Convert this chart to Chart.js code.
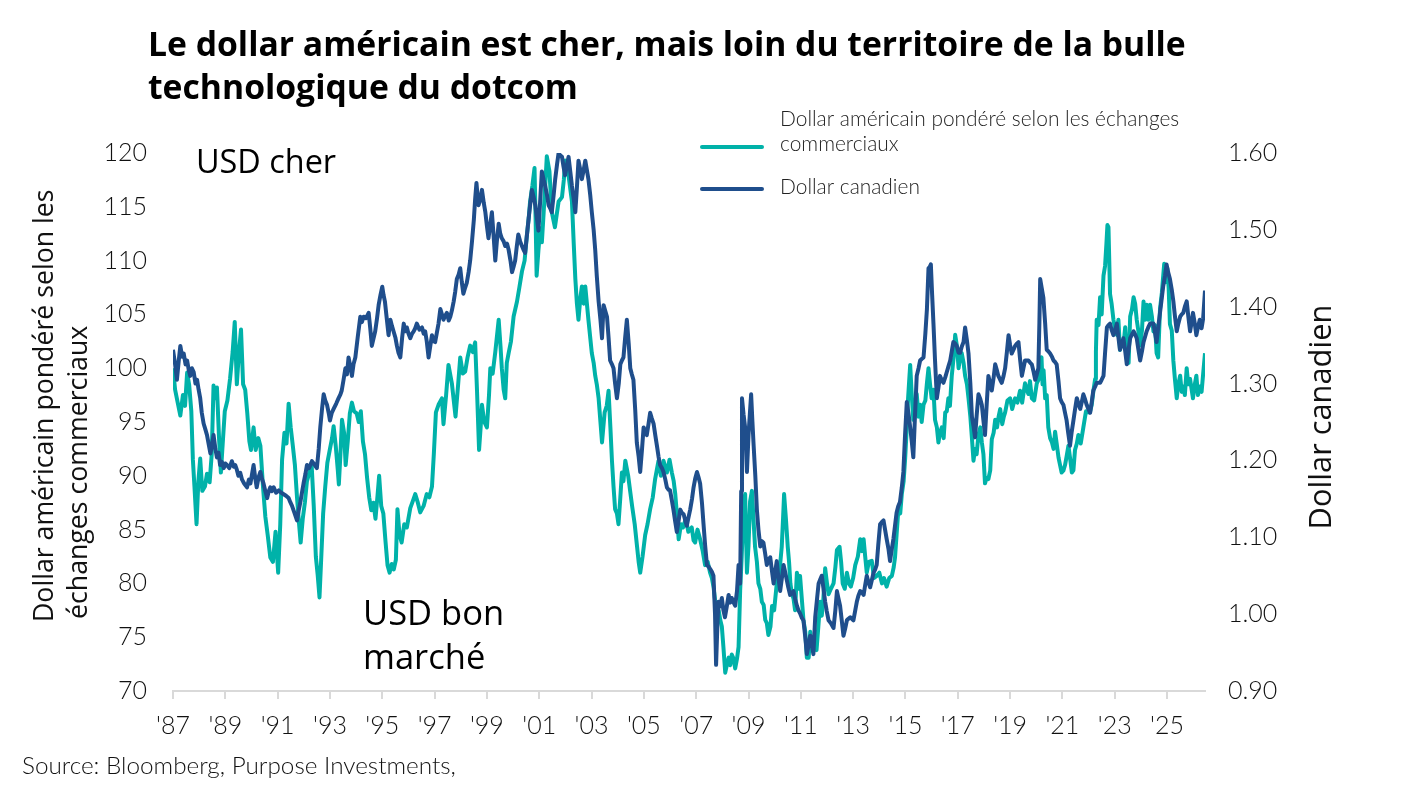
<!DOCTYPE html>
<html>
<head>
<meta charset="utf-8">
<script src="https://cdn.jsdelivr.net/npm/chart.js@4.4.1/dist/chart.umd.min.js"></script>
<style>
  html, body { margin: 0; padding: 0; background: #fff; }
  #wrap { width: 1406px; height: 789px; }
</style>
</head>
<body>
<div id="wrap"><canvas id="myChart" width="1406" height="789"></canvas></div>
<script>
	// ticks shown on the x axis
	const xTickYears = [1987, 1989, 1991, 1993, 1995, 1997, 1999, 2001, 2003, 2005, 2007, 2009, 2011, 2013, 2015, 2017, 2019, 2021, 2023, 2025];

	// Dollar américain pondéré selon les échanges commerciaux (left axis) : [date, value]
	const usdSeries = [[1987.00,100.0],[1987.08,98.0],[1987.18,96.8],[1987.28,95.6],[1987.38,97.5],[1987.46,96.5],[1987.54,99.6],[1987.62,98.4],[1987.70,96.0],[1987.76,91.5],[1987.82,89.0],[1987.90,85.5],[1987.97,89.5],[1988.04,91.6],[1988.12,88.6],[1988.22,89.0],[1988.30,90.2],[1988.40,89.4],[1988.48,92.0],[1988.55,98.4],[1988.62,97.2],[1988.68,98.2],[1988.76,93.5],[1988.83,90.3],[1988.90,93.0],[1988.98,96.0],[1989.08,97.0],[1989.18,99.0],[1989.28,101.5],[1989.36,104.3],[1989.44,98.5],[1989.52,101.5],[1989.60,103.6],[1989.68,98.5],[1989.76,98.0],[1989.84,95.8],[1989.92,93.2],[1989.98,92.4],[1990.08,94.5],[1990.16,92.4],[1990.26,93.5],[1990.34,92.8],[1990.44,89.0],[1990.53,86.2],[1990.62,84.5],[1990.72,82.4],[1990.82,82.0],[1990.92,84.8],[1991.02,81.0],[1991.10,85.5],[1991.17,91.5],[1991.26,94.0],[1991.34,93.0],[1991.42,96.7],[1991.50,94.5],[1991.58,92.8],[1991.66,91.0],[1991.74,88.0],[1991.82,85.5],[1991.88,83.8],[1991.96,86.0],[1992.04,87.5],[1992.12,89.5],[1992.20,90.2],[1992.30,91.0],[1992.38,87.2],[1992.46,82.5],[1992.53,80.8],[1992.60,78.7],[1992.66,82.0],[1992.74,86.5],[1992.82,89.0],[1992.90,91.2],[1993.00,92.5],[1993.08,93.5],[1993.14,94.6],[1993.22,92.8],[1993.30,90.5],[1993.34,89.2],[1993.40,92.0],[1993.46,95.2],[1993.54,94.0],[1993.60,91.0],[1993.68,93.2],[1993.76,95.8],[1993.84,96.8],[1993.92,96.0],[1994.02,95.8],[1994.10,95.0],[1994.18,96.0],[1994.26,93.2],[1994.34,92.0],[1994.42,89.8],[1994.50,88.0],[1994.58,86.8],[1994.66,87.5],[1994.74,86.0],[1994.82,88.2],[1994.88,90.0],[1994.96,87.2],[1995.04,86.5],[1995.12,84.0],[1995.20,81.7],[1995.28,81.0],[1995.36,81.8],[1995.44,81.3],[1995.52,82.2],[1995.58,86.9],[1995.66,84.5],[1995.74,83.8],[1995.84,85.5],[1995.94,85.2],
		[1996.07,87.0],[1996.16,87.6],[1996.26,88.3],[1996.36,87.5],[1996.45,86.6],[1996.58,87.2],[1996.70,88.3],[1996.80,88.0],[1996.90,89.0],[1996.97,92.0],[1997.05,95.9],[1997.15,96.6],[1997.28,97.2],[1997.34,94.8],[1997.44,97.5],[1997.53,100.3],[1997.66,98.6],[1997.80,95.5],[1997.90,98.5],[1997.98,101.0],[1998.08,99.5],[1998.17,99.7],[1998.26,101.0],[1998.36,102.1],[1998.46,101.5],[1998.55,102.4],[1998.62,98.0],[1998.70,92.4],[1998.76,94.5],[1998.81,96.6],[1998.90,95.0],[1999.00,94.5],[1999.08,97.5],[1999.13,100.0],[1999.22,99.5],[1999.32,101.5],[1999.45,104.5],[1999.52,102.0],[1999.57,100.0],[1999.64,98.0],[1999.70,97.2],[1999.76,100.5],[1999.83,101.4],[1999.92,102.5],[2000.02,104.8],[2000.15,106.2],[2000.24,107.5],[2000.34,109.0],[2000.44,110.0],[2000.53,112.4],[2000.60,114.0],[2000.65,115.5],[2000.74,117.0],[2000.82,118.6],[2000.86,114.0],[2000.90,108.6],[2000.97,111.0],[2001.04,113.0],[2001.10,111.7],[2001.17,114.5],[2001.23,117.0],[2001.29,119.7],[2001.39,118.3],[2001.48,114.5],[2001.60,113.1],[2001.74,115.5],[2001.87,115.9],[2001.94,117.5],[2001.99,119.3],[2002.06,118.8],[2002.12,117.9],[2002.25,115.5],[2002.32,111.5],[2002.38,108.3],[2002.44,106.0],[2002.50,104.5],[2002.57,106.5],[2002.63,107.6],[2002.70,106.0],[2002.76,107.6],[2002.88,104.5],[2003.01,101.4],[2003.08,100.5],[2003.14,99.3],[2003.20,98.5],[2003.27,97.2],[2003.34,95.0],[2003.40,93.1],[2003.50,95.9],[2003.58,96.5],[2003.65,97.9],[2003.72,94.5],[2003.78,91.4],[2003.84,89.0],[2003.90,86.9],[2003.97,86.5],[2004.03,85.5],[2004.10,88.0],[2004.16,90.3],[2004.22,89.5],[2004.29,91.4],[2004.40,90.0],[2004.48,88.5],[2004.55,87.2],[2004.65,85.5],[2004.74,83.4],[2004.80,82.0],[2004.86,81.0],[2004.95,82.5],[2005.05,84.5],[2005.14,85.5],[2005.24,86.9],[2005.34,88.0],[2005.43,89.7],[2005.56,91.4],[2005.65,90.0],[2005.75,91.4],[2005.88,90.3],[2005.98,91.5],[2006.07,90.3],[2006.14,89.5],[2006.20,88.3],[2006.26,86.5],[2006.33,84.1],[2006.42,85.5],[2006.50,85.2],[2006.60,86.0],[2006.70,84.8],[2006.83,85.2],[2006.90,84.0],[2006.96,83.8],
		[2007.05,85.0],[2007.15,84.1],[2007.25,83.0],[2007.34,81.7],[2007.44,82.0],[2007.53,81.0],[2007.60,80.5],[2007.66,79.7],[2007.72,78.5],[2007.79,76.9],[2007.86,77.5],[2007.92,76.6],[2007.98,76.0],[2008.04,74.1],[2008.11,71.7],[2008.18,72.5],[2008.24,73.1],[2008.30,72.4],[2008.36,73.4],[2008.43,73.0],[2008.49,72.1],[2008.56,73.0],[2008.62,74.1],[2008.68,79.3],[2008.74,82.5],[2008.81,86.9],[2008.87,88.3],[2008.94,81.0],[2009.00,83.5],[2009.06,87.6],[2009.13,88.6],[2009.19,86.0],[2009.25,83.4],[2009.32,82.0],[2009.38,80.0],[2009.45,79.5],[2009.51,78.3],[2009.58,78.0],[2009.64,76.6],[2009.70,76.3],[2009.76,75.2],[2009.84,76.0],[2009.90,77.9],[2009.98,77.5],[2010.08,80.0],[2010.18,81.0],[2010.27,83.4],[2010.32,86.0],[2010.36,88.3],[2010.43,86.0],[2010.50,83.4],[2010.55,82.0],[2010.60,80.0],[2010.66,79.0],[2010.72,78.6],[2010.78,77.5],[2010.85,81.0],[2010.91,79.5],[2010.97,80.7],[2011.04,78.5],[2011.10,76.6],[2011.17,75.5],[2011.23,73.1],[2011.30,73.1],[2011.36,75.5],[2011.42,74.5],[2011.50,75.0],[2011.60,73.8],[2011.67,76.0],[2011.74,78.3],[2011.80,77.0],[2011.86,78.5],[2011.93,81.4],[2012.00,80.0],[2012.06,79.0],[2012.15,79.5],[2012.25,80.0],[2012.32,81.5],[2012.38,83.1],[2012.48,83.4],[2012.54,82.0],[2012.60,80.0],[2012.68,79.5],[2012.76,81.0],[2012.84,80.0],[2012.91,79.7],[2013.00,80.5],[2013.08,81.7],[2013.18,82.5],[2013.27,84.1],[2013.34,83.0],[2013.40,84.1],[2013.46,82.5],[2013.52,81.0],[2013.60,82.0],[2013.71,82.1],[2013.80,80.5],[2013.90,80.7],[2014.00,81.0],[2014.10,80.0],[2014.18,80.5],[2014.28,79.7],[2014.38,80.5],[2014.48,80.7],[2014.55,81.5],[2014.60,82.4],[2014.66,84.5],[2014.73,86.9],[2014.80,86.5],[2014.86,88.3],[2014.93,89.5],[2014.99,91.7],[2015.05,94.5],[2015.10,97.2],[2015.18,100.3],[2015.24,97.5],[2015.30,95.2],[2015.36,96.5],[2015.43,97.6],[2015.50,95.5],[2015.56,96.6],[2015.62,95.0],[2015.69,96.6],[2015.76,97.0],[2015.82,98.6],[2015.88,100.0],[2015.94,98.5],[2016.00,97.2],[2016.07,98.0],[2016.13,95.2],[2016.20,94.5],[2016.26,93.1],[2016.32,94.0],[2016.39,94.5],[2016.46,93.5],[2016.52,95.9],[2016.58,96.0],[2016.64,97.2],[2016.70,96.5],[2016.77,99.3],[2016.84,101.0],[2016.90,103.1],[2016.97,102.0],
		[2017.03,100.0],[2017.09,101.0],[2017.15,101.4],[2017.22,100.5],[2017.28,99.3],[2017.35,98.5],[2017.41,97.2],[2017.48,95.5],[2017.54,93.5],[2017.60,91.4],[2017.66,92.5],[2017.72,92.0],[2017.79,93.8],[2017.86,94.5],[2017.92,93.1],[2017.98,92.0],[2018.04,89.3],[2018.10,89.8],[2018.17,89.7],[2018.24,90.5],[2018.30,93.4],[2018.37,94.0],[2018.43,95.2],[2018.50,94.5],[2018.56,95.5],[2018.62,96.2],[2018.70,94.8],[2018.76,95.5],[2018.81,95.9],[2018.90,97.0],[2019.00,97.2],[2019.08,96.2],[2019.19,97.2],[2019.28,96.8],[2019.38,97.9],[2019.46,96.8],[2019.57,98.6],[2019.64,98.0],[2019.70,97.6],[2019.76,98.8],[2019.83,97.2],[2019.92,97.0],[2020.02,98.6],[2020.10,99.0],[2020.15,100.7],[2020.20,101.0],[2020.24,98.5],[2020.28,99.8],[2020.34,97.2],[2020.40,97.5],[2020.46,94.5],[2020.53,93.5],[2020.60,93.1],[2020.66,92.5],[2020.72,94.1],[2020.78,93.0],[2020.85,91.7],[2020.91,91.0],[2020.97,90.3],[2021.04,90.5],[2021.10,91.0],[2021.16,91.8],[2021.23,92.8],[2021.30,91.5],[2021.36,90.3],[2021.42,90.5],[2021.48,92.4],[2021.55,93.0],[2021.61,93.8],[2021.70,93.0],[2021.80,94.5],[2021.90,96.0],[2021.99,95.9],[2022.06,96.0],[2022.12,96.6],[2022.19,98.0],[2022.25,99.0],[2022.28,101.5],[2022.31,104.5],[2022.38,104.0],[2022.44,106.6],[2022.50,105.0],[2022.57,108.6],[2022.63,109.5],[2022.68,111.5],[2022.72,113.3],[2022.76,113.1],[2022.79,110.0],[2022.82,106.9],[2022.88,106.0],[2022.95,104.5],[2023.02,103.5],[2023.08,103.1],[2023.14,104.5],[2023.20,101.7],[2023.27,102.5],[2023.33,102.1],[2023.40,103.8],[2023.46,101.0],[2023.53,100.5],[2023.59,104.8],[2023.66,105.5],[2023.72,106.6],[2023.78,106.0],[2023.84,104.5],[2023.90,103.5],[2023.97,102.1],[2024.04,103.5],[2024.10,106.2],[2024.16,104.5],[2024.22,105.9],[2024.28,104.5],[2024.35,105.9],[2024.42,104.8],[2024.48,103.4],[2024.54,104.0],[2024.60,101.4],[2024.66,101.0],[2024.73,105.5],[2024.80,107.0],[2024.89,109.7],[2024.95,108.0],[2025.01,109.3],[2025.06,107.5],[2025.11,104.1],[2025.18,103.5],[2025.24,100.7],[2025.30,99.0],[2025.37,97.2],[2025.43,98.5],[2025.50,99.3],[2025.56,97.8],[2025.62,98.3],[2025.68,97.5],[2025.75,100.0],[2025.81,98.5],[2025.88,99.0],[2025.94,98.0],[2025.99,97.2],[2026.06,98.5],[2026.12,99.3],[2026.18,97.5],[2026.25,98.3],[2026.32,97.8],[2026.38,99.5],[2026.45,101.4]];

	// Dollar canadien (right axis) : [date, value]
	const cadSeries = [[1987.00,1.344],[1987.08,1.325],[1987.15,1.305],[1987.22,1.330],[1987.28,1.349],[1987.35,1.335],[1987.41,1.339],[1987.48,1.325],[1987.54,1.330],[1987.60,1.318],[1987.66,1.310],[1987.72,1.320],[1987.79,1.315],[1987.86,1.300],[1987.92,1.305],[1987.98,1.292],[1988.04,1.281],[1988.10,1.262],[1988.17,1.248],[1988.24,1.240],[1988.30,1.233],[1988.36,1.222],[1988.43,1.209],[1988.50,1.222],[1988.55,1.233],[1988.62,1.215],[1988.68,1.204],[1988.74,1.210],[1988.80,1.194],[1988.87,1.198],[1988.94,1.190],[1989.00,1.196],[1989.06,1.194],[1989.15,1.190],[1989.25,1.199],[1989.32,1.192],[1989.38,1.194],[1989.44,1.188],[1989.50,1.180],[1989.57,1.184],[1989.64,1.175],[1989.72,1.170],[1989.83,1.165],[1989.90,1.175],[1989.96,1.170],[1990.02,1.182],[1990.08,1.194],[1990.14,1.178],[1990.20,1.165],[1990.27,1.178],[1990.34,1.185],[1990.40,1.176],[1990.46,1.170],[1990.53,1.160],[1990.60,1.151],[1990.66,1.160],[1990.72,1.165],[1990.78,1.160],[1990.85,1.165],[1990.94,1.158],[1991.04,1.161],[1991.14,1.158],[1991.23,1.156],[1991.32,1.154],[1991.42,1.151],[1991.48,1.146],[1991.55,1.141],[1991.64,1.132],[1991.74,1.122],[1991.80,1.134],[1991.87,1.146],[1991.93,1.158],[1991.99,1.170],[1992.06,1.182],[1992.12,1.194],[1992.20,1.190],[1992.31,1.199],[1992.40,1.195],[1992.50,1.190],[1992.57,1.215],[1992.63,1.243],[1992.70,1.268],[1992.76,1.286],[1992.82,1.278],[1992.89,1.272],[1992.95,1.262],[1993.00,1.252],[1993.07,1.262],[1993.14,1.267],[1993.24,1.274],[1993.33,1.281],[1993.40,1.286],[1993.45,1.291],[1993.52,1.305],[1993.59,1.320],[1993.65,1.312],[1993.71,1.334],[1993.78,1.322],[1993.84,1.310],[1993.90,1.325],[1993.97,1.334],[1994.06,1.360],[1994.16,1.387],[1994.22,1.380],[1994.29,1.387],[1994.38,1.385],[1994.48,1.392],[1994.54,1.372],[1994.60,1.349],[1994.66,1.358],[1994.73,1.368],[1994.80,1.385],[1994.86,1.402],[1994.93,1.415],[1995.00,1.426],[1995.05,1.415],[1995.10,1.407],[1995.17,1.385],[1995.24,1.363],[1995.31,1.383],[1995.37,1.375],[1995.43,1.368],[1995.50,1.360],[1995.56,1.349],[1995.62,1.340],[1995.69,1.334],[1995.76,1.360],[1995.82,1.378],[1995.88,1.368],[1995.94,1.373],
		[1996.00,1.365],[1996.07,1.359],[1996.14,1.365],[1996.20,1.368],[1996.26,1.372],[1996.32,1.378],[1996.42,1.370],[1996.52,1.373],[1996.58,1.365],[1996.64,1.368],[1996.70,1.355],[1996.77,1.334],[1996.84,1.350],[1996.90,1.363],[1996.96,1.355],[1997.02,1.354],[1997.08,1.365],[1997.15,1.378],[1997.22,1.397],[1997.28,1.390],[1997.34,1.383],[1997.40,1.388],[1997.47,1.392],[1997.54,1.382],[1997.60,1.387],[1997.66,1.395],[1997.73,1.407],[1997.79,1.420],[1997.85,1.436],[1997.92,1.442],[1997.98,1.450],[1998.04,1.432],[1998.10,1.417],[1998.17,1.425],[1998.23,1.431],[1998.30,1.445],[1998.36,1.460],[1998.43,1.485],[1998.50,1.513],[1998.55,1.540],[1998.60,1.561],[1998.64,1.545],[1998.68,1.532],[1998.75,1.540],[1998.81,1.552],[1998.88,1.535],[1998.94,1.523],[1999.00,1.505],[1999.06,1.489],[1999.12,1.505],[1999.19,1.523],[1999.26,1.490],[1999.32,1.460],[1999.38,1.485],[1999.45,1.508],[1999.51,1.495],[1999.57,1.489],[1999.64,1.485],[1999.70,1.479],[1999.77,1.482],[1999.83,1.474],[1999.90,1.460],[1999.96,1.445],[2000.02,1.452],[2000.08,1.460],[2000.14,1.478],[2000.20,1.494],[2000.27,1.485],[2000.34,1.479],[2000.40,1.474],[2000.46,1.470],[2000.52,1.490],[2000.59,1.513],[2000.66,1.535],[2000.72,1.552],[2000.79,1.542],[2000.85,1.532],[2000.91,1.515],[2000.97,1.499],[2001.04,1.540],[2001.10,1.576],[2001.17,1.565],[2001.23,1.557],[2001.30,1.545],[2001.36,1.532],[2001.42,1.528],[2001.48,1.523],[2001.55,1.545],[2001.61,1.566],[2001.68,1.585],[2001.74,1.600],[2001.80,1.597],[2001.87,1.595],[2001.93,1.582],[2001.99,1.571],[2002.06,1.585],[2002.12,1.595],[2002.19,1.575],[2002.25,1.557],[2002.32,1.540],[2002.38,1.523],[2002.44,1.555],[2002.50,1.590],[2002.57,1.578],[2002.63,1.566],[2002.70,1.578],[2002.76,1.590],[2002.82,1.578],[2002.88,1.566],[2002.95,1.545],[2003.01,1.523],[2003.08,1.500],[2003.14,1.474],[2003.20,1.440],[2003.27,1.407],[2003.34,1.383],[2003.40,1.359],[2003.46,1.402],[2003.52,1.395],[2003.59,1.387],[2003.65,1.360],[2003.71,1.330],[2003.78,1.325],[2003.84,1.320],[2003.90,1.300],[2003.97,1.281],[2004.04,1.300],[2004.10,1.325],[2004.16,1.330],[2004.22,1.334],[2004.28,1.358],[2004.35,1.383],[2004.42,1.352],[2004.48,1.320],[2004.54,1.312],[2004.60,1.305],[2004.67,1.265],[2004.73,1.223],[2004.80,1.205],[2004.86,1.185],[2004.93,1.215],[2004.99,1.243],[2005.05,1.238],[2005.11,1.233],[2005.18,1.248],[2005.24,1.262],[2005.30,1.255],[2005.37,1.248],[2005.44,1.232],[2005.50,1.219],[2005.56,1.205],[2005.62,1.194],[2005.69,1.190],[2005.75,1.185],[2005.82,1.175],[2005.88,1.165],[2005.94,1.162],[2006.00,1.161],[2006.07,1.148],[2006.13,1.136],[2006.20,1.120],[2006.26,1.107],[2006.33,1.122],[2006.39,1.136],[2006.45,1.132],[2006.52,1.130],[2006.58,1.122],[2006.64,1.115],[2006.70,1.125],[2006.77,1.136],[2006.84,1.150],[2006.90,1.165],[2006.96,1.176],
		[2007.03,1.185],[2007.09,1.178],[2007.15,1.170],[2007.22,1.145],[2007.28,1.117],[2007.34,1.090],[2007.41,1.064],[2007.47,1.062],[2007.53,1.059],[2007.60,1.055],[2007.66,1.050],[2007.72,1.000],[2007.76,0.934],[2007.80,0.975],[2007.85,1.016],[2007.92,1.010],[2007.98,1.021],[2008.04,1.005],[2008.10,0.996],[2008.17,1.010],[2008.24,1.025],[2008.30,1.015],[2008.36,1.021],[2008.43,1.015],[2008.49,1.011],[2008.56,1.030],[2008.62,1.064],[2008.68,1.040],[2008.72,1.160],[2008.75,1.281],[2008.81,1.260],[2008.87,1.243],[2008.94,1.185],[2009.00,1.233],[2009.05,1.260],[2009.10,1.286],[2009.15,1.250],[2009.19,1.223],[2009.26,1.180],[2009.32,1.136],[2009.38,1.110],[2009.45,1.088],[2009.51,1.095],[2009.57,1.093],[2009.64,1.078],[2009.70,1.064],[2009.76,1.070],[2009.83,1.074],[2009.90,1.055],[2009.96,1.040],[2010.02,1.055],[2010.08,1.069],[2010.14,1.048],[2010.21,1.030],[2010.28,1.048],[2010.34,1.064],[2010.40,1.055],[2010.46,1.045],[2010.52,1.035],[2010.59,1.025],[2010.66,1.028],[2010.72,1.030],[2010.78,1.020],[2010.85,1.011],[2010.91,1.005],[2010.97,1.001],[2011.04,0.995],[2011.10,0.992],[2011.17,0.970],[2011.23,0.948],[2011.30,0.960],[2011.36,0.972],[2011.42,0.960],[2011.48,0.948],[2011.55,0.996],[2011.62,1.020],[2011.68,1.040],[2011.74,1.045],[2011.80,1.050],[2011.87,1.032],[2011.93,1.016],[2011.99,1.004],[2012.06,0.992],[2012.15,0.988],[2012.25,0.982],[2012.32,1.005],[2012.38,1.030],[2012.44,1.020],[2012.50,1.011],[2012.57,0.990],[2012.63,0.972],[2012.70,0.982],[2012.76,0.992],[2012.82,0.994],[2012.89,0.996],[2012.95,0.994],[2013.01,0.992],[2013.08,1.005],[2013.14,1.016],[2013.20,1.024],[2013.27,1.030],[2013.34,1.028],[2013.40,1.025],[2013.46,1.038],[2013.52,1.050],[2013.58,1.042],[2013.65,1.035],[2013.72,1.045],[2013.78,1.054],[2013.84,1.058],[2013.90,1.064],[2013.96,1.090],[2014.03,1.117],[2014.10,1.120],[2014.16,1.122],[2014.22,1.110],[2014.28,1.098],[2014.35,1.085],[2014.41,1.069],[2014.48,1.085],[2014.54,1.098],[2014.60,1.115],[2014.66,1.132],[2014.72,1.140],[2014.79,1.146],[2014.86,1.165],[2014.92,1.185],[2014.98,1.230],[2015.05,1.276],[2015.12,1.260],[2015.18,1.243],[2015.24,1.225],[2015.30,1.204],[2015.36,1.255],[2015.43,1.310],[2015.50,1.320],[2015.56,1.330],[2015.62,1.332],[2015.69,1.334],[2015.76,1.365],[2015.82,1.397],[2015.88,1.450],[2015.93,1.452],[2015.97,1.455],[2016.02,1.415],[2016.07,1.378],[2016.13,1.330],[2016.20,1.281],[2016.26,1.295],[2016.32,1.310],[2016.38,1.305],[2016.45,1.301],[2016.52,1.308],[2016.58,1.315],[2016.64,1.322],[2016.71,1.330],[2016.77,1.342],[2016.83,1.354],[2016.90,1.352],[2016.96,1.349],
		[2017.03,1.340],[2017.09,1.340],[2017.15,1.348],[2017.22,1.354],[2017.28,1.373],[2017.35,1.356],[2017.41,1.339],[2017.48,1.300],[2017.54,1.257],[2017.60,1.245],[2017.66,1.230],[2017.72,1.258],[2017.79,1.286],[2017.86,1.280],[2017.92,1.272],[2017.98,1.252],[2018.04,1.233],[2018.10,1.270],[2018.17,1.310],[2018.24,1.300],[2018.30,1.291],[2018.37,1.308],[2018.43,1.325],[2018.49,1.318],[2018.55,1.310],[2018.62,1.305],[2018.68,1.301],[2018.75,1.310],[2018.81,1.320],[2018.88,1.342],[2018.94,1.363],[2019.00,1.350],[2019.06,1.339],[2019.13,1.344],[2019.19,1.349],[2019.26,1.352],[2019.32,1.354],[2019.38,1.332],[2019.45,1.310],[2019.51,1.320],[2019.57,1.330],[2019.64,1.330],[2019.70,1.330],[2019.77,1.327],[2019.83,1.325],[2019.90,1.315],[2019.96,1.305],[2020.02,1.312],[2020.08,1.320],[2020.12,1.380],[2020.15,1.436],[2020.21,1.424],[2020.27,1.412],[2020.34,1.378],[2020.40,1.344],[2020.46,1.342],[2020.53,1.339],[2020.60,1.335],[2020.66,1.330],[2020.72,1.328],[2020.78,1.325],[2020.85,1.303],[2020.91,1.281],[2020.97,1.276],[2021.04,1.272],[2021.10,1.262],[2021.16,1.252],[2021.22,1.236],[2021.29,1.219],[2021.35,1.236],[2021.42,1.252],[2021.48,1.266],[2021.55,1.281],[2021.61,1.274],[2021.68,1.267],[2021.74,1.276],[2021.80,1.286],[2021.87,1.279],[2021.93,1.272],[2021.99,1.267],[2022.06,1.262],[2022.12,1.276],[2022.18,1.291],[2022.25,1.296],[2022.31,1.301],[2022.38,1.301],[2022.44,1.301],[2022.50,1.305],[2022.57,1.310],[2022.63,1.340],[2022.70,1.373],[2022.76,1.376],[2022.82,1.378],[2022.88,1.370],[2022.95,1.363],[2023.02,1.370],[2023.08,1.378],[2023.14,1.360],[2023.20,1.344],[2023.27,1.352],[2023.33,1.359],[2023.40,1.342],[2023.46,1.325],[2023.52,1.342],[2023.59,1.359],[2023.66,1.364],[2023.72,1.368],[2023.78,1.364],[2023.84,1.359],[2023.90,1.345],[2023.97,1.330],[2024.04,1.342],[2024.10,1.354],[2024.16,1.361],[2024.22,1.368],[2024.28,1.373],[2024.35,1.378],[2024.42,1.378],[2024.48,1.378],[2024.54,1.366],[2024.60,1.354],[2024.66,1.373],[2024.73,1.392],[2024.79,1.409],[2024.85,1.426],[2024.92,1.440],[2024.98,1.455],[2025.04,1.445],[2025.11,1.436],[2025.18,1.422],[2025.24,1.407],[2025.30,1.388],[2025.37,1.368],[2025.43,1.378],[2025.50,1.387],[2025.56,1.390],[2025.62,1.392],[2025.68,1.400],[2025.75,1.407],[2025.81,1.388],[2025.88,1.368],[2025.94,1.380],[2025.99,1.392],[2026.06,1.378],[2026.12,1.363],[2026.18,1.373],[2026.25,1.383],[2026.32,1.372],[2026.38,1.385],[2026.45,1.421]];

	const tealColor = '#00B2A9';
	const navyColor = '#1F4E8C';

	// pick a font size so that a text spans the wanted width
	function fitFont(ctx, text, weight, family, width) {
		ctx.font = weight + ' 100px ' + family;
		const size = 100 * width / ctx.measureText(text).width;
		return weight + ' ' + size.toFixed(1) + 'px ' + family;
	}

	// all the free text of the chart (title, axis titles, notes, legend, source)
	const textPlugin = {
		id: 'texts',
		afterDraw(chart) {
			const ctx = chart.ctx;
			ctx.save();
			ctx.fillStyle = '#000';
			ctx.textBaseline = 'alphabetic';
			ctx.textAlign = 'left';

			const title1 = 'Le dollar américain est cher, mais loin du territoire de la bulle';
			ctx.font = fitFont(ctx, title1, 'bold', '"Open Sans"', 1037);
			ctx.fillText(title1, 148, 56);
			ctx.fillText('technologique du dotcom', 148, 99);

			ctx.font = fitFont(ctx, 'USD cher', 'normal', '"Open Sans"', 140);
			ctx.fillText('USD cher', 196, 173);
			ctx.font = fitFont(ctx, 'USD bon', 'normal', '"Open Sans"', 141);
			ctx.fillText('USD bon', 363, 625);
			ctx.fillText('marché', 363, 669);

			// axis titles
			ctx.save();
			ctx.rotate(-Math.PI / 2);
			ctx.fillStyle = '#111';
			const lt1 = 'Dollar américain pondéré selon les';
			ctx.font = fitFont(ctx, lt1, 'normal', '"Open Sans"', 432);
			ctx.fillText(lt1, -622, 53);
			ctx.fillText('échanges commerciaux', -619, 87);
			ctx.textAlign = 'center';
			ctx.font = fitFont(ctx, 'Dollar canadien', 'normal', '"Open Sans"', 225);
			ctx.fillText('Dollar canadien', -417, 1331);
			ctx.restore();

			// legend
			ctx.lineCap = 'round';
			ctx.lineWidth = 4;
			ctx.strokeStyle = tealColor;
			ctx.beginPath(); ctx.moveTo(702, 147); ctx.lineTo(762, 147); ctx.stroke();
			ctx.strokeStyle = navyColor;
			ctx.beginPath(); ctx.moveTo(702, 189); ctx.lineTo(762, 189); ctx.stroke();
			const lg1 = 'Dollar américain pondéré selon les échanges';
			ctx.font = fitFont(ctx, lg1, '300', 'Lato', 400);
			ctx.fillStyle = '#222';
			ctx.fillText(lg1, 780, 126);
			ctx.fillText('commerciaux', 780, 151);
			ctx.fillText('Dollar canadien', 780, 194);

			const src = 'Source: Bloomberg, Purpose Investments,';
			ctx.font = fitFont(ctx, src, '300', 'Lato', 434);
			ctx.fillStyle = '#111';
			ctx.fillText(src, 22, 774);
			ctx.restore();
		}
	};

	const bgPlugin = {
		id: 'bg',
		beforeDraw(chart) {
			const ctx = chart.ctx;
			ctx.save();
			ctx.fillStyle = '#fff';
			ctx.fillRect(0, 0, chart.width, chart.height);
			ctx.restore();
		}
	};

	const ctx = document.getElementById('myChart').getContext('2d');
	const myChart = new Chart(ctx, {
		type: 'line',
		data: {
			datasets: [{
				label: 'Dollar américain pondéré selon les échanges commerciaux',
				data: usdSeries.map(p => ({ x: p[0], y: p[1] })),
				yAxisID: 'y',
				borderColor: tealColor,
				borderWidth: 4,
				pointRadius: 0,
				tension: 0,
				borderJoinStyle: 'round',
				order: 2
			}, {
				label: 'Dollar canadien',
				data: cadSeries.map(p => ({ x: p[0], y: p[1] })),
				yAxisID: 'y1',
				borderColor: navyColor,
				borderWidth: 4,
				pointRadius: 0,
				tension: 0,
				borderJoinStyle: 'round',
				order: 1
			}]
		},
		options: {
			responsive: false,
			animation: false,
			devicePixelRatio: 1,
			layout: { padding: { top: 153, left: 0, right: 0, bottom: 0 } },
			plugins: {
				legend: { display: false },
				tooltip: { enabled: false },
				title: { display: false }
			},
			scales: {
				x: {
					type: 'linear',
					min: 1987,
					max: 2026.45,
					afterBuildTicks(scale) {
						scale.ticks = xTickYears.map(v => ({ value: v }));
					},
					afterFit(scale) { scale.height = 98; },
					grid: { display: true, drawOnChartArea: false, drawTicks: true, tickLength: 8, color: '#d9d9d9', lineWidth: 2 },
					border: { display: true, color: '#d9d9d9', width: 2 },
					ticks: {
						autoSkip: false,
						maxRotation: 0,
						padding: 12,
						color: '#111',
						font: { family: 'Lato', size: 25, weight: '300' },
						callback: v => "'" + String(v).slice(2)
					}
				},
				y: {
					position: 'left',
					min: 70,
					max: 120,
					afterFit(scale) { scale.width = 173; },
					grid: { display: false, drawTicks: false },
					border: { display: false },
					ticks: {
						stepSize: 5,
						padding: 26,
						color: '#111',
						font: { family: 'Lato', size: 25, weight: '300' }
					}
				},
				y1: {
					position: 'right',
					min: 0.9,
					max: 1.6,
					afterFit(scale) { scale.width = 201; },
					grid: { display: false, drawTicks: false },
					border: { display: false },
					ticks: {
						stepSize: 0.1,
						padding: 23,
						color: '#111',
						font: { family: 'Lato', size: 25, weight: '300' },
						callback: v => v.toFixed(2)
					}
				}
			}
		},
		plugins: [bgPlugin, textPlugin]
	});
</script>
</body>
</html>
